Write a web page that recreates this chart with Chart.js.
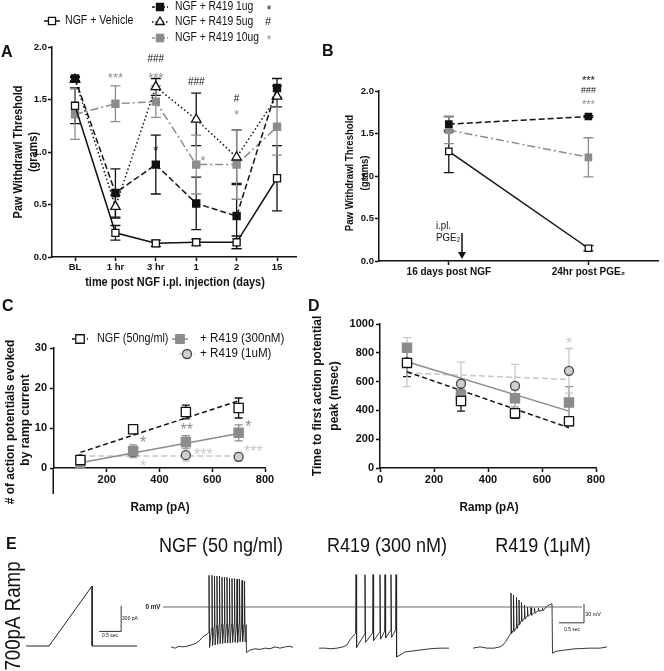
<!DOCTYPE html>
<html>
<head>
<meta charset="utf-8">
<script src="https://cdn.jsdelivr.net/npm/chart.js@4.4.0/dist/chart.umd.min.js"></script>
<style>
  body { margin: 0; background: #fff; width: 664px; height: 671px; overflow: hidden; position: relative; }
  canvas { position: absolute; }
</style>
</head>
<body>
<canvas id="cA" width="318" height="290" style="left:0;top:0"></canvas>
<canvas id="cB" width="346" height="245" style="left:318px;top:40px"></canvas>
<canvas id="cC" width="300" height="225" style="left:0;top:290px"></canvas>
<canvas id="cD" width="364" height="225" style="left:300px;top:290px"></canvas>
<canvas id="cE" width="664" height="141" style="left:0;top:530px"></canvas>
<script>
/* ---------- colours / fonts ---------- */
const INK = '#111', GRAY = '#8c8c8c', LIGHT = '#c8c8c8', CIRCLE_FILL = '#cfcfcf';
const SANS = '"Liberation Sans", Arial, sans-serif';

/* ---------- panel A : paw withdrawal over time ---------- */
const A_LABELS = ['BL', '1 hr', '3 hr', '1', '2', '15'];
const A_VEH = [1.44, 0.23, 0.13, 0.14, 0.14, 0.75];
const A_VEH_ERR = [0.17, 0.07, 0.03, 0.03, 0.06, 0.31];
const A_1UG = [1.70, 0.61, 0.88, 0.51, 0.39, 1.61];
const A_1UG_ERR = [0.02, 0.23, 0.28, 0.25, 0.31, 0.09];
const A_5UG = [1.69, 0.48, 1.62, 1.31, 0.95, 1.53];
const A_5UG_ERR = [0.02, 0.11, 0.08, 0.25, 0.26, 0.10];
const A_10UG = [1.36, 1.46, 1.48, 0.88, 0.88, 1.24];
const A_10UG_ERR = [0.24, 0.17, 0.15, 0.28, 0.33, 0.27];
const A_MARKS = [
  { x: 1, y: 1.74, t: '***', c: GRAY, s: 13 },
  { x: 2, y: 1.895, t: '###', c: INK, s: 10 },
  { x: 2, y: 1.74, t: '***', c: GRAY, s: 13 },
  { x: 2, y: 1.05, t: '*', c: INK, s: 13 },
  { x: 3, y: 1.67, t: '###', c: INK, s: 10 },
  { x: 3.17, y: 0.95, t: '*', c: GRAY, s: 13 },
  { x: 4, y: 1.51, t: '#', c: INK, s: 10 },
  { x: 4, y: 1.39, t: '*', c: GRAY, s: 13 },
];

/* ---------- panel B : PGE2 challenge ---------- */
const B_LABELS = ['16 days post NGF', '24hr post PGE\u2082'];
const B_VEH = [1.29, 0.15];
const B_VEH_ERR = [0.25, 0.03];
const B_1UG = [1.61, 1.70];
const B_1UG_ERR = [0.09, 0.01];
const B_10UG = [1.54, 1.22];
const B_10UG_ERR = [0.16, 0.23];
const B_MARKS = [
  { x: 1, y: 2.16, t: '***', c: INK, s: 11 },
  { x: 1, y: 2.02, t: '###', c: INK, s: 9 },
  { x: 1, y: 1.88, t: '***', c: GRAY, s: 11 },
];

/* ---------- panels C/D : ramp protocol ---------- */
const RAMP_PA = [100, 300, 500, 700];
const FIT_X = [100, 700];
const C_NGF = [2.0, 9.7, 14.0, 15.0];
const C_NGF_ERR = [0.8, 1.0, 1.7, 2.5];
const C_300 = [0.8, 4.2, 6.5, 8.8];
const C_300_ERR = [0.8, 1.6, 1.6, 2.0];
const C_1UM = [2.2, 4.0, 3.2, 2.8];
const C_1UM_ERR = [0.3, 1.2, 1.5, 1.1];
const C_NGF_FIT = [3.9, 16.8];
const C_300_FIT = [1.3, 8.6];
const C_1UM_FIT = [3.0, 3.0];
const C_XTICKS = [200, 400, 600, 800];
const C_MARKS = [
  { x: 338, y: 7.5, t: '*', c: GRAY, s: 16 },
  { x: 503, y: 10.7, t: '**', c: GRAY, s: 16 },
  { x: 737, y: 11.5, t: '*', c: GRAY, s: 16 },
  { x: 566, y: 4.5, t: '***', c: LIGHT, s: 16 },
  { x: 756, y: 5.2, t: '***', c: LIGHT, s: 16 },
  { x: 338, y: 1.5, t: '*', c: LIGHT, s: 16 },
];

const D_NGF = [730, 465, 380, 325];
const D_NGF_ERR = [95, 70, 35, 30];
const D_300 = [835, 505, 485, 455];
const D_300_ERR = [20, 40, 60, 110];
const D_1UM = [735, 585, 570, 675];
const D_1UM_ERR = [170, 150, 150, 155];
const D_NGF_FIT = [668, 280];
const D_300_FIT = [738, 395];
const D_1UM_FIT = [660, 615];
const D_MARKS = [{ x: 700, y: 895, t: '*', c: LIGHT, s: 16 }];

/* ---------- panel E : example traces (s, pA / mV) ---------- */
const RAMP_T = [-0.52, 0, 0.98, 0.98, 2.0];
const RAMP_I = [0, 0, 700, 0, 0];
const RAMPBAR_T = [1.14, 1.64, 1.64];
const RAMPBAR_I = [170, 170, 470];
const ZERO_T = [0.46, 8.84];
const ZERO_V = [0, 0];
const VBAR_T = [8.38, 8.88, 8.88];
const VBAR_V = [-25, -25, 5];

const NGF_PRE_T = [0.62, 0.70, 0.78, 0.86, 0.94, 1.02, 1.10, 1.18, 1.26, 1.34];
const NGF_PRE_V = [-63, -65, -62, -63, -62, -60, -58, -54, -47, -43];
const NGF_SP_T = [1.38, 1.44, 1.49, 1.54, 1.59, 1.64, 1.69, 1.74, 1.79, 1.84, 1.89, 1.94, 1.99, 2.04, 2.09];
const NGF_THR = [-40, -34, -31, -29, -28, -27, -27, -27, -27, -27, -27, -27, -27, -27, -27];
const NGF_PEAK = [50, 50, 49, 49, 49, 47, 47, 47, 45, 45, 45, 44, 44, 42, 41];
const NGF_TROUGH = [-64, -61, -60, -59, -58, -58, -57, -57, -57, -56, -56, -56, -55, -55, -55];
const NGF_POST_T = [2.12, 2.13, 2.2, 2.3, 2.4, 2.5, 2.6, 2.7, 2.8, 2.9, 3.0, 3.06];
const NGF_POST_V = [-28, -72, -68, -66, -67, -65, -66, -63, -65, -63, -62, -64];

const R3_PRE_T = [3.58, 3.70, 3.82, 3.94, 4.06, 4.14, 4.20, 4.26, 4.30];
const R3_PRE_V = [-65, -65, -66, -65, -63, -60, -52, -46, -43];
const R3_SP_T = [4.32, 4.50, 4.66, 4.80, 4.90, 5.02, 5.12];
const R3_THR = [-42, -43, -41, -40, -38, -37, -36];
const R3_PEAK = [51, 51, 51, 51, 51, 51, 51];
const R3_TROUGH = [-64, -56, -53, -51, -49, -48, -79];
const R3_POST_T = [5.2, 5.3, 5.4, 5.6, 5.8, 6.0, 6.18];
const R3_POST_V = [-76, -71, -70, -68, -66, -65, -65];

const R1_PRE_T = [6.66, 6.80, 6.94, 7.08, 7.20, 7.26, 7.32, 7.38];
const R1_PRE_V = [-65, -63, -65, -65, -63, -60, -54, -46];
const R1_SP_T = [7.42, 7.47, 7.53, 7.58, 7.63, 7.69, 7.75, 7.82, 7.89, 7.97, 8.05];
const R1_THR = [-42, -37, -33, -27, -22, -18, -14, -11, -9, -6, -5];
const R1_PEAK = [22, 19, 15, 11, 7, 3, 0, -1, -2, -2, -2];
const R1_TROUGH = [-42, -39, -34, -28, -23, -19, -15, -13, -10, -7, -6];
const R1_POST_T = [8.12, 8.18, 8.24, 8.25, 8.32, 8.5, 8.7, 9.0, 9.2, 9.34];
const R1_POST_V = [0, 3, 5, -73, -70, -68, -66, -65, -65, -63];

/* ---------- helpers ---------- */
const xy = (ys, xs) => ys.map((v, i) => ({ x: xs ? xs[i] : i, y: v }));

function buildTrace(preT, preV, spT, thr, peak, trough, postT, postV) {
  const pts = xy(preV, preT);
  spT.forEach((t, i) => {
    pts.push({ x: t - 0.008, y: thr[i] }, { x: t, y: peak[i] }, { x: t + 0.012, y: trough[i] });
  });
  return pts.concat(xy(postV, postT));
}

function series(label, data, extra) {
  return Object.assign({
    label, data,
    borderColor: INK, borderWidth: 1.5, fill: false, tension: 0,
    pointStyle: 'rect', pointRadius: 5, pointBackgroundColor: '#fff',
    pointBorderColor: INK, pointBorderWidth: 1.3, order: 0,
  }, extra);
}

function fitLine(data, color, dash) {
  return { data, borderColor: color, borderWidth: 1.5, borderDash: dash, pointRadius: 0, order: 10, fill: false };
}

function axis(opts) {
  const type = opts.type || 'linear';
  const s = {
    type,
    min: opts.min, max: opts.max,
    offset: opts.offset || false,
    border: { color: INK, width: 1.5 },
    grid: { drawOnChartArea: false, color: INK, tickLength: 4, tickWidth: 1.5 },
    ticks: {
      color: INK, padding: opts.pad || 1, maxRotation: 0, autoSkip: false,
      font: { family: SANS, size: opts.fontSize || 9.5, weight: 'bold' },
    },
    afterFit: opts.w ? (sc) => { sc.width = opts.w; } : (sc) => { sc.height = opts.h; },
  };
  if (opts.cb) s.ticks.callback = opts.cb;
  else if (type === 'linear') s.ticks.callback = v => String(v);
  if (opts.step) s.ticks.stepSize = opts.step;
  if (opts.tickVals) s.afterBuildTicks = (sc) => { sc.ticks = opts.tickVals.map(v => ({ value: v })); };
  return s;
}

function baseOptions(padTop, padRight, scales) {
  return {
    responsive: false, animation: false,
    layout: { padding: { top: padTop, right: padRight, left: 0, bottom: 0 } },
    plugins: { legend: { display: false }, tooltip: { enabled: false } },
    scales,
  };
}

/* ---------- decoration plugin: error bars, texts, legends ---------- */
const DECO = {};

function drawMarker(ctx, kind, x, y, r, fill, stroke) {
  ctx.beginPath();
  if (kind === 'rect') {
    const s = r * Math.SQRT1_2;
    ctx.rect(x - s, y - s, 2 * s, 2 * s);
  } else if (kind === 'triangle') {
    ctx.moveTo(x, y - r);
    ctx.lineTo(x + r * 0.866, y + r * 0.5);
    ctx.lineTo(x - r * 0.866, y + r * 0.5);
    ctx.closePath();
  } else {
    ctx.arc(x, y, r, 0, Math.PI * 2);
  }
  ctx.setLineDash([]);
  ctx.fillStyle = fill; ctx.fill();
  ctx.lineWidth = 1.3; ctx.strokeStyle = stroke; ctx.stroke();
}

function symbol(ctx, text, x, y, size, color) {
  // centre the glyphs (* and #) on the given point
  const k = text[0] === '*' ? 0.6 : 0.36;
  ctx.font = `${size}px ${SANS}`;
  ctx.fillStyle = color;
  ctx.textAlign = 'center';
  ctx.textBaseline = 'alphabetic';
  ctx.fillText(text, x, y + k * size);
}

Chart.register({
  id: 'deco',
  beforeDatasetsDraw(chart) {
    const ctx = chart.ctx, ys = chart.scales.y;
    chart.data.datasets.forEach((d, i) => {
      if (!d.err) return;
      const meta = chart.getDatasetMeta(i);
      ctx.save();
      ctx.strokeStyle = d.errColor || d.borderColor;
      ctx.lineWidth = 1.3;
      meta.data.forEach((p, j) => {
        const e = d.err[j];
        if (!e) return;
        const v = typeof d.data[j] === 'object' ? d.data[j].y : d.data[j];
        const top = ys.getPixelForValue(v + e), bot = ys.getPixelForValue(v - e), w = d.capW || 5;
        ctx.beginPath();
        ctx.moveTo(p.x, top); ctx.lineTo(p.x, bot);
        ctx.moveTo(p.x - w, top); ctx.lineTo(p.x + w, top);
        ctx.moveTo(p.x - w, bot); ctx.lineTo(p.x + w, bot);
        ctx.stroke();
      });
      ctx.restore();
    });
  },
  afterDraw(chart) {
    const cfg = DECO[chart.canvas.id];
    if (!cfg) return;
    const ctx = chart.ctx;
    const area = chart.chartArea;

    if (cfg.yExt) {
      ctx.save();
      ctx.strokeStyle = INK; ctx.lineWidth = 1.5;
      ctx.beginPath();
      ctx.moveTo(area.left - 0.75, area.bottom);
      ctx.lineTo(area.left - 0.75, area.bottom + cfg.yExt);
      ctx.stroke();
      ctx.restore();
    }

    // annotation symbols in data coordinates
    (cfg.marks || []).forEach(m => {
      ctx.save();
      symbol(ctx, m.t, chart.scales.x.getPixelForValue(m.x), chart.scales.y.getPixelForValue(m.y), m.s, m.c);
      ctx.restore();
    });

    // page-positioned furniture
    ctx.save();
    ctx.translate(-cfg.origin[0], -cfg.origin[1]);
    (cfg.legend || []).forEach(l => {
      ctx.save();
      ctx.strokeStyle = l.line; ctx.lineWidth = 1.5;
      ctx.setLineDash(l.dash || []);
      ctx.beginPath();
      ctx.moveTo(l.x - 8, l.y); ctx.lineTo(l.x + 8, l.y);
      ctx.stroke();
      drawMarker(ctx, l.kind, l.x, l.y, l.r, l.fill, l.stroke);
      ctx.restore();
    });
    (cfg.syms || []).forEach(s => { ctx.save(); symbol(ctx, s.t, s.x, s.y, s.s, s.c); ctx.restore(); });
    (cfg.texts || []).forEach(t => {
      ctx.save();
      ctx.translate(t.x, t.y);
      if (t.rot) ctx.rotate(t.rot);
      if (t.sx) ctx.scale(t.sx, 1);
      ctx.font = t.font;
      ctx.fillStyle = t.color || INK;
      ctx.textAlign = t.align || 'center';
      ctx.textBaseline = 'middle';
      ctx.fillText(t.text, 0, 0);
      ctx.restore();
    });
    (cfg.arrows || []).forEach(a => {
      ctx.strokeStyle = INK; ctx.fillStyle = INK; ctx.lineWidth = 1.5;
      ctx.beginPath(); ctx.moveTo(a.x, a.y0); ctx.lineTo(a.x, a.y1 - 4); ctx.stroke();
      ctx.beginPath(); ctx.moveTo(a.x - 4, a.y1 - 7); ctx.lineTo(a.x + 4, a.y1 - 7); ctx.lineTo(a.x, a.y1); ctx.closePath(); ctx.fill();
    });
    ctx.restore();
  },
});

const ROT = -Math.PI / 2;
const TITLE = `bold 12px ${SANS}`;
const LEG = `12px ${SANS}`;
const LETTER = `bold 16px ${SANS}`;

/* ---------- A ---------- */
DECO.cA = {
  origin: [0, 0],
  marks: A_MARKS,
  legend: [
    { x: 52, y: 21, kind: 'rect', r: 5, fill: '#fff', stroke: INK, line: INK },
    { x: 160, y: 7, kind: 'rect', r: 5, fill: INK, stroke: INK, line: INK, dash: [3, 2] },
    { x: 160, y: 22, kind: 'triangle', r: 5, fill: '#fff', stroke: INK, line: INK, dash: [1.5, 2] },
    { x: 160, y: 38, kind: 'rect', r: 5, fill: GRAY, stroke: GRAY, line: GRAY, dash: [3, 2] },
  ],
  syms: [
    { t: '*', x: 269, y: 7, s: 12, c: INK },
    { t: '#', x: 268, y: 21, s: 11, c: INK },
    { t: '*', x: 269, y: 37, s: 12, c: GRAY },
  ],
  texts: [
    { text: 'A', x: 1, y: 53, font: LETTER, align: 'left' },
    { text: 'NGF + Vehicle', x: 65, y: 21, font: LEG, align: 'left', sx: 0.88 },
    { text: 'NGF + R419 1ug', x: 175, y: 7, font: LEG, align: 'left', sx: 0.86 },
    { text: 'NGF + R419 5ug', x: 175, y: 22, font: LEG, align: 'left', sx: 0.86 },
    { text: 'NGF + R419 10ug', x: 175, y: 38, font: LEG, align: 'left', sx: 0.86 },
    { text: 'Paw Withdrawl Threshold', x: 19, y: 152, font: TITLE, rot: ROT, sx: 0.91 },
    { text: '(grams)', x: 34, y: 152, font: TITLE, rot: ROT, sx: 0.91 },
    { text: 'time post NGF i.pl. injection (days)', x: 175, y: 283, font: TITLE, sx: 0.91 },
  ],
};

new Chart(document.getElementById('cA'), {
  type: 'line',
  data: {
    datasets: [
      series('NGF + Vehicle', xy(A_VEH), { err: A_VEH_ERR }),
      series('NGF + R419 1ug', xy(A_1UG), { err: A_1UG_ERR, borderDash: [6, 3], pointBackgroundColor: INK, order: 1 }),
      series('NGF + R419 5ug', xy(A_5UG), { err: A_5UG_ERR, borderDash: [1.5, 2.5], pointStyle: 'triangle', pointRadius: 5.5, order: 2 }),
      series('NGF + R419 10ug', xy(A_10UG), { err: A_10UG_ERR, borderColor: GRAY, borderDash: [8, 3, 2, 3], pointBackgroundColor: GRAY, pointBorderColor: GRAY, order: 3 }),
    ],
  },
  options: baseOptions(47, 22, {
    x: axis({ min: -0.57, max: 5.47, h: 33, tickVals: A_LABELS.map((_, i) => i), cb: v => A_LABELS[v] }),
    y: axis({ min: 0, max: 2, step: 0.5, w: 52, cb: v => v.toFixed(1) }),
  }),
});

/* ---------- B ---------- */
DECO.cB = {
  origin: [318, 40],
  marks: B_MARKS,
  arrows: [{ x: 462, y0: 233, y1: 259 }],
  texts: [
    { text: 'B', x: 322, y: 52, font: LETTER, align: 'left' },
    { text: 'Paw Withdrawl Threshold', x: 350, y: 173, font: `bold 11px ${SANS}`, rot: ROT, sx: 0.87 },
    { text: '(grams)', x: 365, y: 173, font: `bold 11px ${SANS}`, rot: ROT, sx: 0.87 },
    { text: 'i.pl.', x: 436, y: 226, font: `11px ${SANS}`, align: 'left', sx: 0.88 },
    { text: 'PGE\u2082', x: 436, y: 238, font: `11px ${SANS}`, align: 'left', sx: 0.88 },
  ],
};

new Chart(document.getElementById('cB'), {
  type: 'line',
  data: {
    labels: B_LABELS,
    datasets: [
      series('NGF + Vehicle', B_VEH, { err: B_VEH_ERR, pointRadius: 4.5 }),
      series('NGF + R419 1ug', B_1UG, { err: B_1UG_ERR, borderDash: [6, 3], pointBackgroundColor: INK, pointRadius: 4.5, order: 1 }),
      series('NGF + R419 10ug', B_10UG, { err: B_10UG_ERR, borderColor: GRAY, borderDash: [8, 3, 2, 3], pointBackgroundColor: GRAY, pointBorderColor: GRAY, pointRadius: 4.5, order: 3 }),
    ],
  },
  options: baseOptions(51, 1, {
    x: axis({ type: 'category', offset: true, h: 24, fontSize: 10 }),
    y: axis({ min: 0, max: 2, step: 0.5, w: 61, cb: v => v.toFixed(1) }),
  }),
});

/* ---------- C ---------- */
DECO.cC = {
  origin: [0, 290],
  marks: C_MARKS,
  yExt: 26,
  legend: [
    { x: 80, y: 339, kind: 'rect', r: 6, fill: '#fff', stroke: INK, line: INK, dash: [3, 2] },
    { x: 180, y: 339, kind: 'rect', r: 6, fill: GRAY, stroke: GRAY, line: GRAY },
    { x: 187, y: 354, kind: 'circle', r: 4.5, fill: CIRCLE_FILL, stroke: '#444', line: LIGHT, dash: [3, 2] },
  ],
  texts: [
    { text: 'C', x: 2, y: 307, font: LETTER, align: 'left' },
    { text: 'NGF (50ng/ml)', x: 97, y: 339, font: LEG, align: 'left', sx: 0.9 },
    { text: '+ R419 (300nM)', x: 200, y: 339, font: LEG, align: 'left', sx: 0.97 },
    { text: '+ R419 (1uM)', x: 200, y: 354, font: LEG, align: 'left', sx: 0.97 },
    { text: '# of action potentials evoked', x: 11, y: 422, font: TITLE, rot: ROT },
    { text: 'by ramp current', x: 26, y: 420, font: TITLE, rot: ROT },
    { text: 'Ramp (pA)', x: 160, y: 507, font: `bold 13px ${SANS}`, sx: 0.9 },
  ],
};

new Chart(document.getElementById('cC'), {
  type: 'line',
  data: {
    datasets: [
      series('NGF (50ng/ml)', xy(C_NGF, RAMP_PA), { err: C_NGF_ERR, showLine: false, pointRadius: 6.5, capW: 4 }),
      series('+ R419 (300nM)', xy(C_300, RAMP_PA), { err: C_300_ERR, showLine: false, borderColor: GRAY, pointBackgroundColor: GRAY, pointBorderColor: GRAY, pointRadius: 6.5, capW: 4, order: 1 }),
      series('+ R419 (1uM)', xy(C_1UM, RAMP_PA), { err: C_1UM_ERR, showLine: false, borderColor: LIGHT, pointStyle: 'circle', pointBackgroundColor: CIRCLE_FILL, pointBorderColor: '#444', pointRadius: 4.5, capW: 4, order: 2 }),
      fitLine(xy(C_NGF_FIT, FIT_X), INK, [5, 3]),
      fitLine(xy(C_300_FIT, FIT_X), GRAY, []),
      fitLine(xy(C_1UM_FIT, FIT_X), LIGHT, [6, 3]),
    ],
  },
  options: baseOptions(58, 35, {
    x: axis({ min: 0, max: 800, h: 47, fontSize: 11, tickVals: C_XTICKS }),
    y: axis({ min: 0, max: 30, step: 10, w: 54, fontSize: 11, pad: 3 }),
  }),
});

/* ---------- D ---------- */
DECO.cD = {
  origin: [300, 290],
  marks: D_MARKS,
  texts: [
    { text: 'D', x: 308, y: 307, font: LETTER, align: 'left' },
    { text: 'Time to first action potential', x: 318, y: 396, font: TITLE, rot: ROT },
    { text: 'peak (msec)', x: 335, y: 396, font: TITLE, rot: ROT },
    { text: 'Ramp (pA)', x: 489, y: 507, font: `bold 13px ${SANS}`, sx: 0.9 },
  ],
};

new Chart(document.getElementById('cD'), {
  type: 'line',
  data: {
    datasets: [
      series('NGF (50ng/ml)', xy(D_NGF, RAMP_PA), { err: D_NGF_ERR, showLine: false, pointRadius: 6.5, capW: 4 }),
      series('+ R419 (300nM)', xy(D_300, RAMP_PA), { err: D_300_ERR, showLine: false, borderColor: GRAY, pointBackgroundColor: GRAY, pointBorderColor: GRAY, pointRadius: 6.5, capW: 4, order: 1 }),
      series('+ R419 (1uM)', xy(D_1UM, RAMP_PA), { err: D_1UM_ERR, showLine: false, borderColor: LIGHT, pointStyle: 'circle', pointBackgroundColor: CIRCLE_FILL, pointBorderColor: '#444', pointRadius: 4.5, capW: 4, order: 2 }),
      fitLine(xy(D_NGF_FIT, FIT_X), INK, [5, 3]),
      fitLine(xy(D_300_FIT, FIT_X), GRAY, []),
      fitLine(xy(D_1UM_FIT, FIT_X), LIGHT, [6, 3]),
    ],
  },
  options: baseOptions(34, 68, {
    x: axis({ min: 0, max: 800, step: 200, h: 47, fontSize: 11 }),
    y: axis({ min: 0, max: 1000, step: 200, w: 80, fontSize: 11, pad: 2 }),
  }),
});

/* ---------- E ---------- */
DECO.cE = {
  origin: [0, 530],
  texts: [
    { text: 'E', x: 6, y: 545, font: LETTER, align: 'left' },
    { text: 'NGF (50 ng/ml)', x: 221, y: 546, font: `20px ${SANS}`, sx: 0.9 },
    { text: 'R419 (300 nM)', x: 387, y: 546, font: `20px ${SANS}`, sx: 0.9 },
    { text: 'R419 (1\u03bcM)', x: 543, y: 546, font: `20px ${SANS}`, sx: 0.9 },
    { text: '700pA Ramp', x: 14, y: 616, font: `22px ${SANS}`, rot: ROT, sx: 0.85 },
    { text: '0 mV', x: 153, y: 607, font: `bold 7px ${SANS}`, sx: 0.9 },
    { text: '300 pA', x: 130, y: 619, font: `5px ${SANS}` },
    { text: '0.5 sec', x: 110, y: 636, font: `5px ${SANS}` },
    { text: '30 mV', x: 593, y: 614, font: `6px ${SANS}`, sx: 0.9 },
    { text: '0.5 sec', x: 572, y: 629, font: `5.5px ${SANS}`, sx: 0.9 },
  ],
};

const traceDs = (data, xId, yId, color, width) => ({
  data, xAxisID: xId, yAxisID: yId, showLine: true, pointRadius: 0,
  borderColor: color, borderWidth: width, tension: 0, fill: false,
});

new Chart(document.getElementById('cE'), {
  type: 'scatter',
  data: {
    datasets: [
      traceDs(xy(RAMP_I, RAMP_T), 'xr', 'yr', '#222', 1),
      traceDs(xy(RAMPBAR_I, RAMPBAR_T), 'xr', 'yr', '#222', 0.9),
      traceDs(xy(ZERO_V, ZERO_T), 'x', 'y', '#444', 0.8),
      traceDs(buildTrace(NGF_PRE_T, NGF_PRE_V, NGF_SP_T, NGF_THR, NGF_PEAK, NGF_TROUGH, NGF_POST_T, NGF_POST_V), 'x', 'y', '#222', 0.9),
      traceDs(buildTrace(R3_PRE_T, R3_PRE_V, R3_SP_T, R3_THR, R3_PEAK, R3_TROUGH, R3_POST_T, R3_POST_V), 'x', 'y', '#222', 0.9),
      traceDs(buildTrace(R1_PRE_T, R1_PRE_V, R1_SP_T, R1_THR, R1_PEAK, R1_TROUGH, R1_POST_T, R1_POST_V), 'x', 'y', '#222', 0.9),
      traceDs(xy(VBAR_V, VBAR_T), 'x', 'y', '#222', 0.9),
    ],
  },
  options: {
    responsive: false, animation: false,
    layout: { padding: 0 },
    plugins: { legend: { display: false }, tooltip: { enabled: false } },
    scales: {
      x: { type: 'linear', display: false, min: -2.8, max: 10.48 },
      y: { type: 'linear', display: false, min: -101.1, max: 121.6 },
      xr: { type: 'linear', display: false, min: -1.1136, max: 13.977 },
      yr: { type: 'linear', display: false, min: -291.7, max: 1353.6 },
    },
  },
});
</script>
</body>
</html>
